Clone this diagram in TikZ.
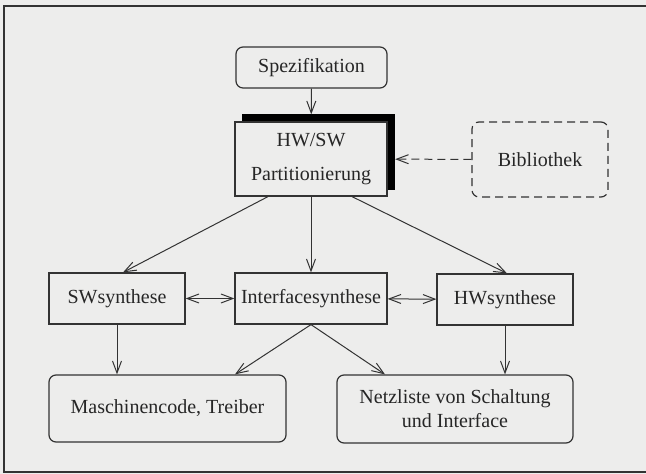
\documentclass[tikz,border=0pt]{standalone}
\usepackage{fontspec}
\setmainfont{Liberation Serif}
\usepackage{tikz}
\usetikzlibrary{arrows.meta, shadows}
\definecolor{paper}{HTML}{EDEDEC}
\definecolor{ink}{HTML}{333333}
\tikzstyle{blk}=[draw=ink, line width=0.6pt, fill=paper, inner sep=0pt, text=black!85, font=\fontsize{10}{12}\selectfont, align=center]
\tikzstyle{rblk}=[blk, rounded corners=3.5pt]
\tikzstyle{lnk}=[draw=ink, line width=0.5pt]
\tikzset{>={Straight Barb[length=6pt, width=4.5pt]}}

\begin{document}
\begin{tikzpicture}[x=0.5pt, y=-0.5pt]
% paper and frame
\fill[paper] (0,0) rectangle (646,474);
\useasboundingbox (0,0) rectangle (646,474);
\draw[ink, line width=0.7pt] (646,6) -- (4,6) -- (4,472) -- (646,472);
% the top row
\node[rblk, minimum width=75.5pt, minimum height=20.5pt] (spec) at (311.5,67.5) {Spezifikation};
\node[blk, minimum width=76pt, minimum height=37pt, copy shadow={shadow xshift=3.75pt, shadow yshift=3.5pt, fill=black, draw=black}, font=\fontsize{10}{17}\selectfont] (part) at (311,159) {HW/SW\\Partitionierung};
\node[rblk, dashed, dash pattern=on 4pt off 2.5pt, minimum width=68pt, minimum height=37.5pt] (bib) at (540,159.5) {Bibliothek};
% the synthesis row
\node[blk, minimum width=68pt, minimum height=25.5pt] (sw) at (117,298.5) {SWsynthese};
\node[blk, minimum width=76pt, minimum height=25.5pt] (intf) at (311,298.5) {Interfacesynthese};
\node[blk, minimum width=68pt, minimum height=25.5pt] (hw) at (505,299.5) {HWsynthese};
% the results
\node[rblk, minimum width=118.5pt, minimum height=33.5pt] (mc) at (167.5,408.5) {Maschinencode, Treiber};
\node[rblk, minimum width=118pt, minimum height=34pt] (net) at (455,409) {Netzliste von Schaltung\\und Interface};
% the edges
\draw[lnk, ->, shorten >=3.5pt] (spec) -- (part);
\draw[lnk, ->, dashed, dash pattern=on 4pt off 2.5pt, shorten >=3.75pt] (bib) -- (part);
\draw[lnk, ->] ([xshift=-21.5pt]part.south) -- ([xshift=3pt]sw.north);
\draw[lnk, ->] (part) -- (intf);
\draw[lnk, ->] ([xshift=20.5pt]part.south) -- ([xshift=1pt]hw.north);
\draw[lnk, <->] (sw) -- (intf);
\draw[lnk, <->] (intf) -- (hw);
\draw[lnk, ->] (sw.south) -- (sw.south |- mc.north);
\draw[lnk, ->] (intf.south) -- ([xshift=33.75pt]mc.north);
\draw[lnk, ->] (intf.south) -- ([xshift=-35pt]net.north);
\draw[lnk, ->] (hw.south) -- (hw.south |- net.north);
\end{tikzpicture}
\end{document}
